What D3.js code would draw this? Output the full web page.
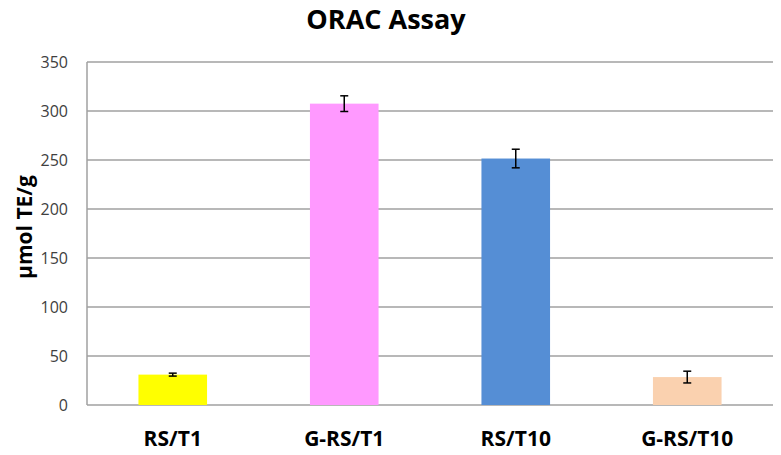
<!DOCTYPE html>
<html>
<head>
<meta charset="utf-8">
<script src="https://cdn.jsdelivr.net/npm/d3@7"></script>
<style>
  body { margin: 0; background: #fff; }
  text { font-family: "Open Sans", sans-serif; }
</style>
</head>
<body>
<div id="chart"></div>
<script>
const categories = ['RS/T1', 'G-RS/T1', 'RS/T10', 'G-RS/T10'];
const values = [31, 307.5, 251.5, 28.5];
const errors = [1.5, 8, 9.5, 6];
const colors = ['#FFFF00', '#FF99FF', '#558ED5', '#FAD1AF'];
const yTicks = [0, 50, 100, 150, 200, 250, 300, 350];

const width = 781, height = 455;
const margin = { top: 62, right: 8, bottom: 50, left: 87 };

const svg = d3.select('#chart').append('svg')
    .attr('width', width)
    .attr('height', height);

const x = d3.scaleBand()
    .domain(categories)
    .range([margin.left, width - margin.right])
    .paddingInner(0.6)
    .paddingOuter(0.3);

const y = d3.scaleLinear()
    .domain([0, 350])
    .range([height - margin.bottom, margin.top]);

// gridlines
svg.append('g')
    .selectAll('line')
    .data(yTicks)
    .enter().append('line')
    .attr('x1', margin.left)
    .attr('x2', width - margin.right)
    .attr('y1', d => y(d))
    .attr('y2', d => y(d))
    .attr('stroke', '#a0a0a0')
    .attr('stroke-width', 1.5);

// y axis line
svg.append('line')
    .attr('x1', margin.left).attr('x2', margin.left)
    .attr('y1', y(350)).attr('y2', y(0))
    .attr('stroke', '#a0a0a0')
    .attr('stroke-width', 1.5);

// y tick labels
svg.append('g')
    .selectAll('text')
    .data(yTicks)
    .enter().append('text')
    .attr('x', margin.left - 19)
    .attr('y', d => y(d))
    .attr('dy', '0.35em')
    .attr('text-anchor', 'end')
    .attr('font-size', 16)
    .attr('fill', '#404040')
    .text(d => d);

// bars
svg.append('g')
    .selectAll('rect')
    .data(categories)
    .enter().append('rect')
    .attr('x', d => x(d))
    .attr('y', (d, i) => y(values[i]))
    .attr('width', x.bandwidth())
    .attr('height', (d, i) => y(0) - y(values[i]))
    .attr('fill', (d, i) => colors[i]);

// error bars
const eb = svg.append('g')
    .selectAll('g')
    .data(categories)
    .enter().append('g')
    .attr('stroke', '#000')
    .attr('stroke-width', 1.5);

eb.append('line')
    .attr('x1', d => x(d) + x.bandwidth() / 2)
    .attr('x2', d => x(d) + x.bandwidth() / 2)
    .attr('y1', (d, i) => y(values[i] + errors[i]))
    .attr('y2', (d, i) => y(values[i] - errors[i]));
eb.append('line')
    .attr('x1', d => x(d) + x.bandwidth() / 2 - 4)
    .attr('x2', d => x(d) + x.bandwidth() / 2 + 4)
    .attr('y1', (d, i) => y(values[i] + errors[i]))
    .attr('y2', (d, i) => y(values[i] + errors[i]));
eb.append('line')
    .attr('x1', d => x(d) + x.bandwidth() / 2 - 4)
    .attr('x2', d => x(d) + x.bandwidth() / 2 + 4)
    .attr('y1', (d, i) => y(values[i] - errors[i]))
    .attr('y2', (d, i) => y(values[i] - errors[i]));

// x labels
svg.append('g')
    .selectAll('text')
    .data(categories)
    .enter().append('text')
    .attr('x', d => x(d) + x.bandwidth() / 2)
    .attr('y', 446)
    .attr('text-anchor', 'middle')
    .attr('font-size', 21)
    .attr('font-weight', 'bold')
    .attr('fill', '#000')
    .text(d => d);

// y axis title
svg.append('text')
    .attr('transform', 'translate(32,' + 227 + ') rotate(-90)')
    .attr('text-anchor', 'middle')
    .attr('font-size', 21)
    .attr('font-weight', 'bold')
    .attr('fill', '#000')
    .text('μmol TE/g');

// title
svg.append('text')
    .attr('x', 386)
    .attr('y', 29)
    .attr('text-anchor', 'middle')
    .attr('font-size', 27)
    .attr('font-weight', 'bold')
    .attr('fill', '#000')
    .text('ORAC Assay');
</script>
</body>
</html>
